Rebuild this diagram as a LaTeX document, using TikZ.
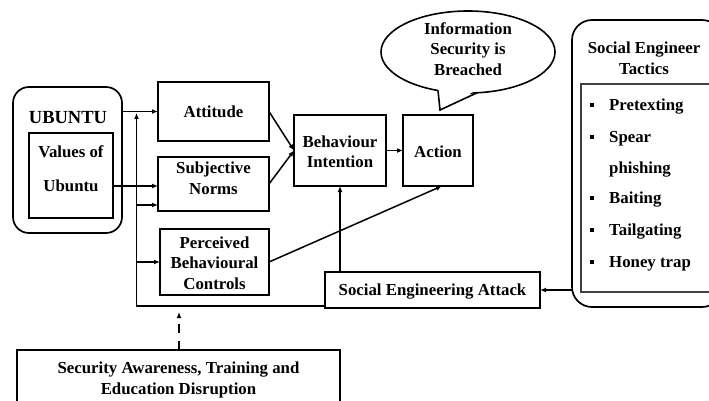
\documentclass[tikz,border=0pt]{standalone}
\usepackage{fontspec}
\setmainfont{Liberation Serif}
\usetikzlibrary{arrows.meta,shapes.geometric}
\newcommand\dfont{\bfseries\fontsize{16.8}{20.5}\selectfont}
\newcommand\ufont{\bfseries\fontsize{18.5}{22}\selectfont}
\begin{document}
\begin{tikzpicture}[x=1pt,y=-1pt,
  box/.style={draw, line width=1.7pt, inner sep=0pt, outer sep=0pt},
  txt/.style={font=\dfont, align=center, inner sep=0pt, text depth=0pt},
  arr/.style={line width=1.5pt, -{Latex[length=6pt,width=5pt]}},
  ln/.style={line width=1.6pt},
  bul/.style={fill, inner sep=0pt, minimum size=4.5pt}]
\useasboundingbox (0,0) rectangle (709,401);
\fill[white] (0,0) rectangle (709,401);
\clip (0,0) rectangle (709,401);

% UBUNTU
\node[box, rounded corners=16pt, minimum width=109pt, minimum height=146pt] (ubo) at (67.5,160) {};
\node[txt, font=\ufont] (ubt) at (68,117) {UBUNTU};
\node[box, minimum width=84pt, minimum height=85pt] (val) at (71,175.5) {};
\node[txt] (val1) at (71,152) {Values of};
\node[txt] (val2) at (71,186) {Ubuntu};

% TPB boxes
\node[box, minimum width=111pt, minimum height=59pt] (att) at (213.5,111.5) {};
\node[txt] (attt) at (213.5,112) {Attitude};
\node[box, minimum width=111pt, minimum height=54pt] (sn) at (213.5,184) {};
\node[txt] (snt) at (213.5,178) {Subjective\\Norms};
\node[box, minimum width=109pt, minimum height=66pt] (pbc) at (214.5,262) {};
\node[txt] (pbct) at (214.5,263) {Perceived\\Behavioural\\Controls};
\node[box, minimum width=92pt, minimum height=71pt] (bi) at (340,150.5) {};
\node[txt] (bit) at (340,151.5) {Behaviour\\Intention};
\node[box, minimum width=70pt, minimum height=71pt] (act) at (438,150.5) {};
\node[txt] (actt) at (438,152) {Action};
\node[box, minimum width=215pt, minimum height=36pt] (sea) at (432.5,290) {};
\node[txt] (seat) at (432.5,290) {Social Engineering Attack};
\node[box, minimum width=323pt, minimum height=60pt] (aw) at (178.5,380) {};
\node[txt] (awt) at (178.5,378) {Security Awareness, Training and\\Education Disruption};

% speech bubble
\node[draw, ellipse, line width=1.6pt, minimum width=174pt, minimum height=82pt, inner sep=0pt, outer sep=0pt, fill=white] (bub) at (468,52) {};
\node[txt] (bubt) at (468,49) {Information\\Security is\\Breached};
\coordinate (ta) at (438,90.5);
\coordinate (tb) at (477,92.8);
\coordinate (tip) at (440,110);
\fill[white] ([yshift=3pt]ta) -- (tip) -- ([yshift=3pt]tb) -- cycle;
\draw[ln, line join=miter] (ta) -- (tip) -- (tb);

% tactics
\node[box, rounded corners=20pt, minimum width=150pt, minimum height=287pt] (tac) at (647,163.5) {};
\node[txt] (tact) at (644,58) {Social Engineer\\Tactics};
\node[draw, line width=1.2pt, draw=black!75, inner sep=0pt, outer sep=0pt, minimum width=140pt, minimum height=208pt] (tin) at (651,188) {};
\node[bul] (b1) at (592,105) {};
\node[txt, anchor=west] (l1) at (609,105) {Pretexting};
\node[bul] (b2) at (592,137) {};
\node[txt, anchor=west] (l2) at (609,137) {Spear};
\node[txt, anchor=west] (l3) at (609,168) {phishing};
\node[bul] (b4) at (592,198) {};
\node[txt, anchor=west] (l4) at (609,198) {Baiting};
\node[bul] (b5) at (592,230) {};
\node[txt, anchor=west] (l5) at (609,230) {Tailgating};
\node[bul] (b6) at (592,262) {};
\node[txt, anchor=west] (l6) at (609,262) {Honey trap};

% connectors
\coordinate (vb) at (136.5,306);
\coordinate (vt) at (136.5,113);
\coordinate (v1) at (136.5,205);
\coordinate (v2) at (136.5,262);
\coordinate (vu) at (113,186);
\draw[arr] (att.west -| ubo.east) -- (att.west);
\draw[arr] (vu -| val.east) -- (vu -| sn.west);
\draw[arr] (sea.west |- vb) -- (vb) -- (vt);
\draw[arr] (v1) -- (v1 -| sn.west);
\draw[arr] (v2) -- (v2 -| pbc.west);
\draw[arr] (att.east) -- (bi.west);
\draw[arr] (sn.east) -- (bi.west);
\draw[arr] (bi.east) -- (act.west);
\draw[arr] (pbc.east) -- ([xshift=4pt]act.south);
\draw[arr] (sea.north -| bi.south) -- (bi.south);
\draw[arr] (tac.west |- sea.east) -- (sea.east);
\coordinate (dt) at (179,312);
\draw[arr, dash pattern=on 9pt off 8pt] (aw.north -| dt) -- (dt);
\end{tikzpicture}
\end{document}
